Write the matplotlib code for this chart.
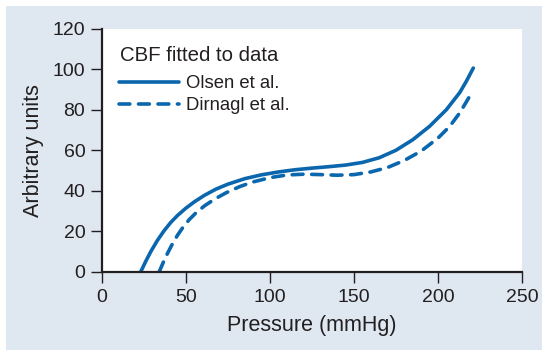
import matplotlib
matplotlib.use("Agg")
import matplotlib.pyplot as plt
from matplotlib.patches import Rectangle

# Data
olsen_x = [23, 26, 29, 33, 37, 41, 45, 50, 55, 61, 68, 75, 85, 95, 105, 115,
           125, 135, 145, 155, 165, 175, 185, 195, 205, 213, 217, 221]
olsen_y = [0, 5.2, 10, 15.6, 20.4, 24.5, 27.9, 31.5, 34.6, 37.8, 40.9, 43.3,
           46.0, 47.9, 49.3, 50.4, 51.2, 51.9, 52.7, 54.0, 56.3, 60.0, 65.2,
           71.8, 80.0, 88.5, 94.2, 100.5]

dirnagl_x = [34, 36.5, 39, 42, 45, 48, 52, 56, 61, 67, 74, 82, 90, 100, 110,
             120, 130, 140, 150, 160, 170, 180, 190, 200, 207, 213, 219.5]
dirnagl_y = [0, 4.8, 9.2, 14, 18.2, 21.8, 25.9, 29.2, 32.6, 35.9, 39.1, 42.1,
             44.4, 46.5, 47.8, 48.2, 48.0, 47.7, 48.0, 49.3, 51.5, 55.0, 59.6,
             66.0, 71.8, 78.5, 87.5]

x_ticks = [0, 50, 100, 150, 200, 250]
y_ticks = [0, 20, 40, 60, 80, 100, 120]

legend_title = "CBF fitted to data"
labels = ["Olsen et al.", "Dirnagl et al."]
x_label = "Pressure (mmHg)"
y_label = "Arbitrary units"

line_color = "#0a67ad"
text_color = "#231f20"
bg_color = "#dfe7f1"

plt.rcParams['font.family'] = ['Liberation Sans', 'DejaVu Sans']

W, H = 542, 350
fig = plt.figure(figsize=(W / 100, H / 100), dpi=100, facecolor="white")
fig.patches.append(Rectangle((6 / W, 0), 1 - 6 / W, 1 - 6 / H,
                             transform=fig.transFigure, facecolor=bg_color,
                             edgecolor="none", zorder=-10))

ax = fig.add_axes([102 / W, 1 - 272 / H, 420 / W, 243.5 / H])
ax.set_facecolor("white")

ax.plot(olsen_x, olsen_y, color=line_color, lw=2.6, solid_capstyle="round",
        solid_joinstyle="round", label=labels[0])
ax.plot(dirnagl_x, dirnagl_y, color=line_color, lw=2.6, ls=(0, (3.0, 2.4)),
        dash_capstyle="round", dash_joinstyle="round", label=labels[1])

ax.set_xlim(0, 250)
ax.set_ylim(0, 120)
ax.set_xticks(x_ticks)
ax.set_yticks(y_ticks)

for s in ["top", "right"]:
    ax.spines[s].set_visible(False)
for s in ["left", "bottom"]:
    ax.spines[s].set_linewidth(1.6)
    ax.spines[s].set_color(text_color)
    ax.spines[s].set_capstyle("projecting")

ax.tick_params(axis="both", direction="out", length=8, width=1.0,
               color=text_color, labelsize=14, labelcolor=text_color)
ax.tick_params(axis="y", pad=4)
ax.tick_params(axis="x", pad=4)

ax.set_xlabel(x_label, fontsize=15.5, color=text_color, labelpad=6.5)
ax.set_ylabel(y_label, fontsize=15.5, color=text_color, labelpad=6)

fig.text(120.5 / W, 1 - 60.7 / H, legend_title, fontsize=14.7,
         color=text_color, ha="left", va="baseline")

leg = ax.legend(loc="upper left", bbox_to_anchor=(0.04, 0.807),
                frameon=False, fontsize=13.3, handlelength=3.25,
                handletextpad=0.4, labelspacing=0.25, borderpad=0,
                borderaxespad=0)
for t in leg.get_texts():
    t.set_color(text_color)

fig.savefig("out.png", dpi=100, facecolor=fig.get_facecolor())
